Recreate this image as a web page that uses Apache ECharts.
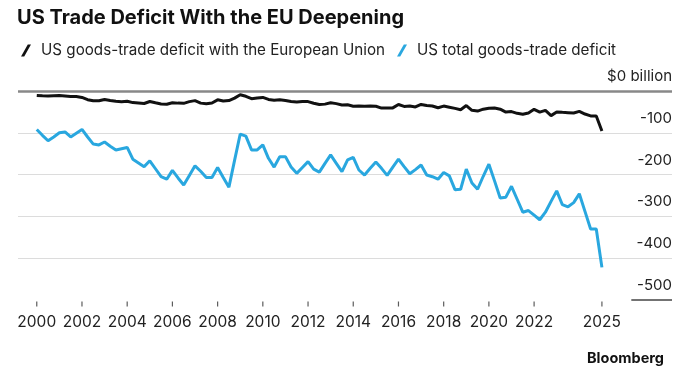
<!DOCTYPE html>
<html>
<head>
<meta charset="utf-8">
<script src="https://cdn.jsdelivr.net/npm/echarts@6/dist/echarts.min.js"></script>
<style>
  html, body { margin: 0; padding: 0; background: #fff; }
  #chart { width: 687px; height: 369px; }
</style>
</head>
<body>
<div id="chart"></div>
<script>
// Quarterly data, 2000 Q1 .. 2025 Q1 (billions of dollars)
const startYear = 2000;
const seriesNames = ['US goods-trade deficit with the European Union', 'US total goods-trade deficit'];
const euDeficit = [
  -10.7,-11.6,-12.1,-11.4,-10.7,-11.9,-13.1,-13.1,-15.4,-20.7,
  -23.3,-23.5,-20.4,-22.6,-24.7,-25.7,-24.5,-27.8,-28.7,-29.9,
  -25.2,-28.3,-31.1,-31.6,-28,-29,-29.5,-25.4,-23,-29,
  -30.4,-28.7,-21.1,-24,-23,-17.1,-9,-12.6,-18.3,-16.6,
  -15.4,-20.2,-22.1,-20.9,-22.6,-24.9,-26.4,-24.9,-25.4,-29.2,
  -32.1,-31.4,-28.3,-30.2,-33.5,-33,-36.3,-35.6,-36.3,-35.6,
  -36.6,-40.9,-40.9,-40.4,-32.3,-36.8,-36.1,-38.2,-32.1,-34.9,
  -35.9,-40.1,-36.1,-38.7,-41.6,-44.7,-34.9,-46.3,-48,-43.5,
  -41.1,-40.6,-43.5,-50.4,-49.2,-53.4,-55.8,-52.7,-43.9,-50.6,
  -46.3,-58.9,-50.1,-51.1,-51.8,-52.7,-48.7,-55.1,-59.6,-59.9,
  -95.5
];
const totalDeficit = [
  -92,-106,-119,-110,-100,-98,-110,-101,-92,-110,
  -127,-129,-122,-132,-141,-138,-135,-163,-172,-181,
  -167,-186,-205,-211,-190,-208,-225,-202,-179,-192,
  -207,-207,-183,-207,-230,-166,-103,-108,-141,-141,
  -129,-161,-182,-157,-157,-182,-197,-183,-169,-187,
  -194,-173,-153,-173,-193,-165,-159,-189,-201,-185,
  -170,-185,-202,-182,-163,-181,-198,-188,-177,-201,
  -205,-211,-195,-203,-236,-235,-187,-220,-235,-204,
  -175,-215,-256,-254,-228,-259,-290,-286,-297,-308,
  -290,-264,-239,-272,-277,-267,-246,-288,-330,-330,
  -422
];
const xTickYears = [2000, 2002, 2004, 2006, 2008, 2010, 2012, 2014, 2016, 2018, 2020, 2022, 2025];
const yTicks = [0, -100, -200, -300, -400, -500];

const toPairs = arr => arr.map((v, i) => [startYear + i / 4, v]);

const FONT = 'Inter, "Liberation Sans", Arial, sans-serif';
const BLUE = '#29a7df';
const BLACK = '#111111';
const X_MIN = 1999.17, X_MAX = 2028.1;
const Y_MIN = -500, Y_MAX = 0;

const chart = echarts.init(document.getElementById('chart'), null, { renderer: 'canvas' });
chart.setOption({
  backgroundColor: '#ffffff',
  animation: false,
  textStyle: { fontFamily: FONT },
  title: [
    {
      text: 'US Trade Deficit With the EU Deepening',
      left: 12, top: 3,
      textStyle: { fontFamily: FONT, fontSize: 20, fontWeight: 'bold', color: '#111' }
    },
    {
      text: 'Bloomberg',
      right: 18, top: 346,
      textStyle: { fontFamily: FONT, fontSize: 14.5, fontWeight: 'bold', color: '#111' }
    }
  ],
  legend: {
    left: 16, top: 38,
    itemWidth: 10, itemHeight: 12,
    itemGap: 12,
    icon: 'path://M6.8,0 L10,0 L3.2,12 L0,12 Z',
    itemStyle: { borderWidth: 0 },
    textStyle: { fontFamily: FONT, fontSize: 15.2, color: '#222', padding: [0, 0, 0, 5] },
    data: seriesNames
  },
  grid: {
    left: 18, right: 15, top: 91, bottom: 69,
    containLabel: false,
    outerBoundsMode: 'none'
  },
  xAxis: {
    type: 'value',
    min: X_MIN,
    max: X_MAX,
    axisLine: { show: false, onZero: false },
    splitLine: { show: false },
    axisTick: { show: false },
    axisLabel: {
      customValues: xTickYears,
      fontFamily: FONT, fontSize: 15.5, color: '#222', margin: 14,
      formatter: v => String(Math.round(v))
    }
  },
  yAxis: {
    type: 'value',
    position: 'right',
    min: Y_MIN, max: Y_MAX, interval: 100,
    axisLine: { show: false },
    axisTick: { show: false },
    splitLine: {
      show: true,
      lineStyle: { color: ['rgba(0,0,0,0)', '#dcdcdc', '#dcdcdc', '#dcdcdc', '#dcdcdc', 'rgba(0,0,0,0)'], width: 1 }
    },
    axisLabel: {
      inside: true,
      margin: 0,
      fontFamily: FONT, fontSize: 15, color: '#222',
      verticalAlign: 'bottom',
      padding: [0, 0, 7, 0],
      formatter: v => (v === 0 ? '$0 billion' : String(v))
    }
  },
  series: [
    {
      name: seriesNames[0],
      type: 'line',
      data: toPairs(euDeficit),
      showSymbol: false, symbol: 'none',
      lineStyle: { color: BLACK, width: 3 },
      itemStyle: { color: BLACK },
      z: 4,
      markLine: {
        silent: true, symbol: 'none', animation: false,
        label: { show: false },
        data: [
          [{ coord: [X_MIN, Y_MAX] }, { coord: [X_MAX, Y_MAX] }],
          [{ coord: [2026.3, Y_MIN], lineStyle: { color: '#444', width: 1.5 } }, { coord: [X_MAX, Y_MIN] }]
        ],
        lineStyle: { color: '#888', width: 2.5, type: 'solid' }
      }
    },
    {
      name: seriesNames[1],
      type: 'line',
      data: toPairs(totalDeficit),
      showSymbol: false, symbol: 'none',
      lineStyle: { color: BLUE, width: 3 },
      itemStyle: { color: BLUE },
      z: 3
    },
    {
      // x-axis tick marks at the labelled years
      name: 'ticks',
      type: 'scatter',
      data: xTickYears.map(y => [y, Y_MIN]),
      symbol: 'rect',
      symbolSize: [1.2, 5],
      symbolOffset: [0, 4],
      itemStyle: { color: '#333' },
      clip: false,
      silent: true,
      z: 2
    }
  ]
});
</script>
</body>
</html>
